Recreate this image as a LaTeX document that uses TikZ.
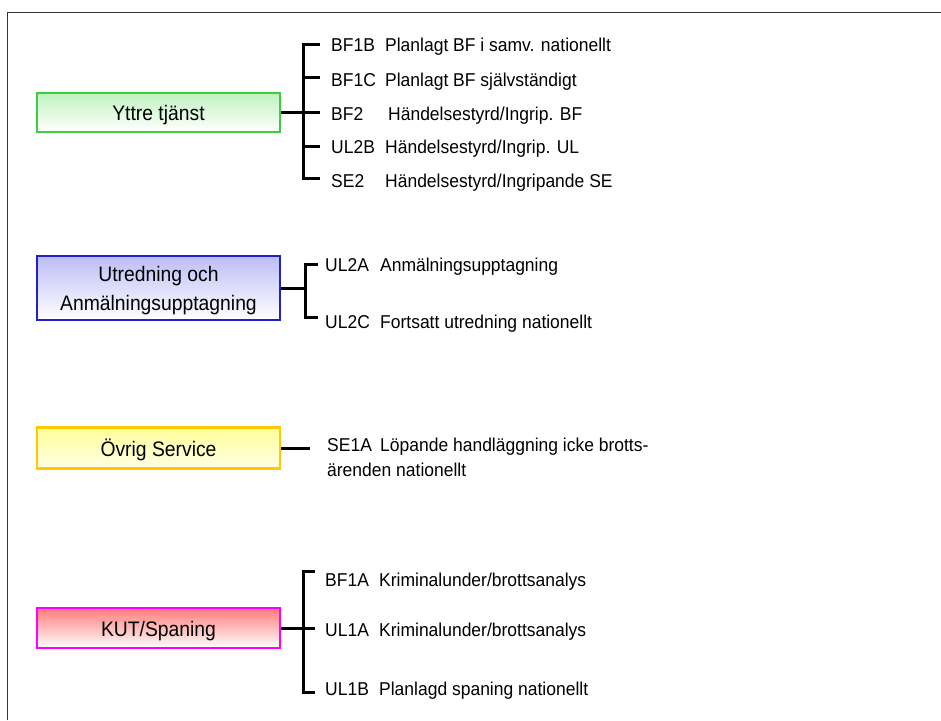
\documentclass[tikz,border=0pt]{standalone}
\usepackage{fontspec}
\setmainfont{Liberation Sans}[FakeStretch=0.92]
\newfontfamily\itemfont{Liberation Sans}[FakeStretch=0.94]
\definecolor{grnB}{HTML}{40CC40}
\definecolor{grnF}{HTML}{BFF3BF}
\definecolor{bluB}{HTML}{2020CC}
\definecolor{bluF}{HTML}{BDBDF7}
\definecolor{ylwB}{HTML}{FFC800}
\definecolor{ylwF}{HTML}{FFFF99}
\definecolor{ylwF2}{HTML}{FFFFE6}
\definecolor{magB}{HTML}{FF00FF}
\definecolor{magF}{HTML}{FF7A7A}
\definecolor{frameC}{HTML}{333333}
\newcommand\itemcode[2][54pt]{\makebox[#1][l]{#2}}
\begin{document}
\begin{tikzpicture}[x=1pt,y=-1pt,
  catbox/.style={draw, line width=2.5pt, minimum width=243pt, inner sep=0pt,
    align=center, font=\fontsize{21}{28.5}\selectfont, text=black,
    text height=16.4pt, text depth=0pt},
  conn/.style={line width=3pt, black},
  itemtext/.style={anchor=base west, inner sep=0pt, align=left,
    font=\itemfont\fontsize{18.6}{25}\selectfont, text=black},
  framel/.style={line width=1.6pt, frameC}]
\useasboundingbox (0,0) rectangle (941,720);
\fill[white] (0,0) rectangle (941,720);
\draw[framel] (7.5,720) -- (7.5,12.5) -- (941,12.5);

% category boxes
\node[catbox, minimum height=39pt, draw=grnB, top color=grnF, bottom color=white] (b1) at (158.5,112.5) {Yttre tjänst};
\node[catbox, minimum height=64pt, draw=bluB, top color=bluF, bottom color=white, text height=44pt] (b2) at (158.5,288) {Utredning och\\Anmälningsupptagning};
\node[catbox, minimum height=41pt, draw=ylwB, top color=ylwF, bottom color=ylwF2] (b3) at (158.5,448) {Övrig Service};
\node[catbox, minimum height=40pt, draw=magB, top color=magF, bottom color=white] (b4) at (158.5,628) {KUT/Spaning};

% group 1
\coordinate (v1) at (303,0);
\coordinate (e11) at (320,44);
\coordinate (e12) at (320,77.3);
\coordinate (e13) at (320,112.5);
\coordinate (e14) at (320,146.7);
\coordinate (e15) at (320,178.5);
\draw[conn] (e11) -- (e11 -| v1) -- (e15 -| v1) -- (e15);
\draw[conn] (e12 -| v1) -- (e12);
\draw[conn] (e14 -| v1) -- (e14);
\draw[conn] (b1.east) -- (e13);
\node[itemtext] (t11) at (331,51.7) {\itemcode{BF1B}Planlagt BF i samv. nationellt};
\node[itemtext] (t12) at (331,86.7) {\itemcode{BF1C}Planlagt BF självständigt};
\node[itemtext] (t13) at (331,120) {\itemcode[57pt]{BF2}Händelsestyrd/Ingrip. BF};
\node[itemtext] (t14) at (331,153.3) {\itemcode{UL2B}Händelsestyrd/Ingrip. UL};
\node[itemtext] (t15) at (331,187.3) {\itemcode{SE2}Händelsestyrd/Ingripande SE};

% group 2
\coordinate (v2) at (305,0);
\coordinate (e21) at (318,264);
\coordinate (e22) at (318,317);
\draw[conn] (e21) -- (e21 -| v2) -- (e22 -| v2) -- (e22);
\draw[conn] (b2.east) -- (b2.east -| v2);
\node[itemtext] (t21) at (325,271.7) {\itemcode[55pt]{UL2A}Anmälningsupptagning};
\node[itemtext] (t22) at (325,328.3) {\itemcode[55pt]{UL2C}Fortsatt utredning nationellt};

% group 3
\coordinate (e31) at (310,448);
\draw[conn] (b3.east) -- (e31);
\node[itemtext] (t31) at (327,476.7) {\itemcode[53pt]{SE1A}Löpande handläggning icke brotts-\\ärenden nationellt};

% group 4
\coordinate (v4) at (303,0);
\coordinate (e41) at (315,571);
\coordinate (e42) at (315,628);
\coordinate (e43) at (315,692);
\draw[conn] (e41) -- (e41 -| v4) -- (e43 -| v4) -- (e43);
\draw[conn] (b4.east) -- (e42);
\node[itemtext] (t41) at (325,586.7) {\itemcode{BF1A}Kriminalunder/brottsanalys};
\node[itemtext] (t42) at (325,636.7) {\itemcode{UL1A}Kriminalunder/brottsanalys};
\node[itemtext] (t43) at (325,695) {\itemcode{UL1B}Planlagd spaning nationellt};
\end{tikzpicture}
\end{document}
